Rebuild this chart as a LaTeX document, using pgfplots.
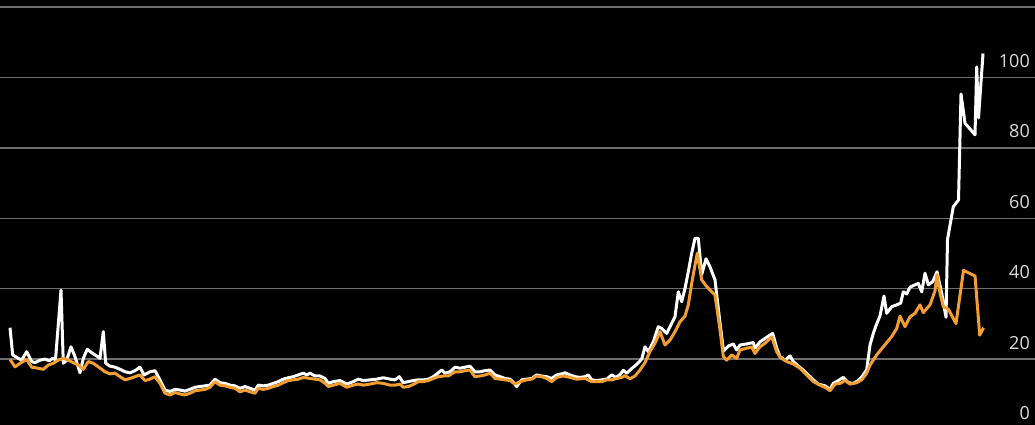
\documentclass[border=0pt]{standalone}
\usepackage{pgfplots}
\pgfplotsset{compat=1.18}
\usepackage{fontspec}
\setmainfont{Open Sans}
\definecolor{orangeline}{RGB}{242,158,50}
\definecolor{gridgray}{RGB}{110,110,110}
\definecolor{labelgray}{RGB}{220,220,220}
\begin{document}
\begin{tikzpicture}
\begin{axis}[
  scale only axis, width=1035pt, height=429.5pt,
  xmin=0, xmax=1035, ymin=0, ymax=122,
  axis background/.style={fill=black},
  axis line style={draw=none},
  xtick=\empty,
  ytick={0,20,40,60,80,100,120},
  yticklabels={0,20,40,60,80,100,},
  ymajorgrids,
  grid style={color=gridgray, line width=1.3pt},
  major tick length=0pt,
  yticklabel pos=right,
  /pgf/number format/assume math mode=true,
  yticklabel style={anchor=base east, inner sep=0pt, xshift=-5pt, yshift=10pt,
    font=\fontsize{18}{20}\selectfont, text=labelgray},
]
\addplot[white, line width=3pt, line join=round, no marks] coordinates {
(10,28.9) (12.7,21.2) (18.3,20.2) (21.7,19.7) (26.7,22.1) (31.7,19.3) (35,19.0) (40,19.7) (45,20.0) (49.3,19.5) (52.7,20.2) (55.5,19.8) (61,39.6) (63.3,18.8) (66.7,19.7) (71,23.5) (75,20.7) (80,16.1) (83.3,20.2) (87.3,22.8) (91.7,21.8) (96.7,20.9) (100,20.2) (103.3,27.8) (105.7,18.8) (110,18.0) (115,17.7) (120,17.1) (125,16.4) (130,16.1) (135,16.7) (140,17.7) (144,15.5) (150,16.4) (155,16.7) (160,14.1) (165,11.2) (170,10.8) (175,11.4) (180,11.2) (185,10.9) (190,11.4) (195,12.0) (200,12.2) (205,12.4) (210,12.6) (215,14.3) (220,13.3) (225,13.1) (230,12.6) (235,12.4) (240,11.7) (245,12.2) (250,11.7) (255,11.2) (258.3,12.6) (263.3,12.4) (268.3,12.6) (273.3,13.1) (278.3,13.6) (283.3,14.3) (288.3,14.7) (293.3,15.0) (298.3,15.5) (303.3,16.0) (306.7,15.5) (310,16.0) (315,15.2) (320,15.2) (325,14.5) (328.3,13.1) (333.3,13.6) (340,13.9) (346.7,12.9) (353.3,13.6) (358.3,14.3) (363.3,13.9) (370,14.1) (376.7,14.3) (383.3,14.7) (390,14.3) (395,14.1) (399.3,15.0) (403.3,13.3) (408.3,13.6) (413.3,13.9) (418.3,14.1) (423.3,14.1) (428.3,14.3) (433.3,15.0) (438.3,16.1) (441.7,16.9) (445,16.0) (450,16.4) (455,17.7) (460,17.4) (465,17.7) (470,18.0) (475,16.4) (480,16.4) (485,16.7) (490,16.9) (495,15.5) (500,15.0) (505,14.5) (510,14.3) (513.3,13.4) (516.7,12.2) (521.7,14.1) (526.7,14.3) (531.7,14.5) (536.7,15.5) (541.7,15.2) (546.7,15.0) (551.7,14.5) (556.7,15.5) (561.7,15.8) (565,16.1) (570,15.5) (575,15.0) (580,14.8) (585,15.0) (588.3,15.5) (591.7,14.1) (596.7,13.9) (601.7,14.1) (606.7,14.3) (611.7,15.5) (616,14.8) (620,15.6) (623.3,16.8) (626.7,16.0) (631.7,17.3) (636.7,18.5) (641.7,20.0) (645,23.5) (648.3,22.1) (653.3,24.9) (658.3,29.2) (661.7,28.7) (666.7,27.3) (670,29.2) (675,32.0) (678.3,39.1) (681.7,36.3) (685,40.1) (688.3,44.8) (691.7,50.1) (695,54.3) (698.3,54.3) (701.7,44.0) (706,48.5) (710,46.2) (715,42.5) (720,30.2) (723.5,22.3) (728.3,23.7) (733.3,24.3) (736.7,22.6) (740,24.0) (746.7,24.3) (753.3,24.7) (755,23.1) (760,24.9) (766.7,26.2) (772.7,27.3) (776.7,23.1) (780,20.7) (785,19.7) (790,20.9) (793.3,19.3) (798.3,18.0) (803.3,16.9) (808.3,15.5) (813.3,14.1) (818.3,12.9) (825,12.4) (830,11.4) (833.3,13.1) (838.3,13.9) (843.3,14.8) (848.3,13.3) (853.3,13.1) (858.3,13.9) (862,15.0) (866.7,17.0) (870,24.0) (873.3,27.3) (876,29.5) (880,32.3) (884,37.9) (886.7,33.0) (891.7,34.9) (896.7,35.4) (900.7,35.9) (903.3,39.1) (906.7,38.5) (910,40.4) (915,41.1) (918.3,41.5) (921.7,39.1) (925,44.4) (928.3,41.1) (932.7,42.0) (937,44.8) (941.7,38.7) (946,31.9) (947.5,54.0) (953.3,63.3) (958.5,65.2) (961,95.3) (965,87.0) (975,83.7) (976.7,103.0) (978.5,88.5) (983,106.8)
};
\addplot[orangeline, line width=3pt, line join=round, no marks] coordinates {
(10,19.9) (15,17.8) (20,18.8) (26.7,19.9) (31.7,17.7) (38.3,17.4) (43.3,17.1) (48.3,18.3) (53.3,18.8) (58.3,19.7) (63.3,20.2) (68.3,19.7) (73.3,19.0) (78.3,18.3) (83.3,17.1) (88.3,19.3) (93.3,18.8) (98.3,17.8) (105,16.4) (110,15.8) (115,16.0) (120,15.0) (125,14.1) (130,14.5) (135,15.0) (140,15.5) (145,13.9) (150,14.3) (155,15.0) (160,13.1) (165,10.3) (170,9.8) (175,10.5) (180,10.1) (185,9.8) (190,10.3) (195,11.0) (200,11.2) (205,11.4) (210,12.0) (215,13.6) (220,12.6) (225,12.4) (230,12.0) (235,11.7) (240,10.7) (245,11.2) (250,10.7) (255,10.3) (258.3,11.7) (263.3,11.4) (268.3,11.7) (273.3,12.2) (278.3,12.6) (283.3,13.3) (288.3,13.9) (293.3,14.1) (298.3,14.3) (303.3,14.8) (310,14.5) (315,14.3) (320,14.1) (325,13.1) (328.3,12.2) (333.3,12.6) (340,13.1) (346.7,12.0) (353.3,12.6) (358.3,12.9) (363.3,12.6) (370,12.9) (376.7,13.3) (383.3,13.1) (390,12.6) (395,12.6) (400,12.9) (403.3,12.0) (408.3,12.2) (413.3,12.8) (418.3,13.6) (423.3,13.6) (428.3,13.9) (433.3,14.5) (438.3,15.0) (443.3,15.2) (448.3,15.2) (455,16.4) (460,16.4) (465,16.7) (470,16.9) (475,15.0) (480,15.2) (485,15.5) (490,16.0) (495,14.5) (500,14.3) (505,14.1) (510,13.9) (515,12.9) (520,13.6) (526.7,14.1) (531.7,14.3) (536.7,15.2) (541.7,15.0) (546.7,14.5) (551.7,13.6) (556.7,14.8) (563.3,15.2) (570,14.8) (576.7,14.3) (585,14.5) (591.7,13.6) (596.7,13.6) (601.7,13.6) (606.7,14.1) (611.7,14.1) (616.7,14.5) (621.7,14.8) (625,15.3) (630,14.4) (635,15.2) (640,16.9) (645,19.0) (650,22.2) (655,24.5) (660,27.8) (665,24.0) (670,25.4) (675,27.8) (680,30.6) (685,32.2) (688.3,35.4) (691.7,41.5) (695,46.7) (697.3,50.1) (701.7,42.5) (706.7,40.6) (711.7,39.1) (715,38.2) (720,28.3) (723.3,20.7) (726.7,19.7) (731.7,21.2) (736.7,20.2) (740,22.6) (746.7,23.1) (751.7,23.4) (755,21.6) (760,23.5) (765,24.5) (771.7,26.3) (776.7,22.1) (780,20.5) (786.7,19.3) (793.3,18.6) (800,17.4) (806.7,15.5) (813.3,13.6) (820,12.6) (826.7,11.7) (830,11.0) (835,12.9) (840,13.1) (845,13.9) (850,12.9) (856.7,13.3) (861.7,14.1) (866.7,16.0) (870,18.3) (876.7,21.2) (883.3,23.5) (891.7,26.4) (896.7,28.7) (900,32.2) (905,29.2) (910,32.0) (915,33.0) (920,35.4) (923.3,33.2) (930,35.4) (935,39.4) (937,44.0) (940,38.7) (943.3,34.9) (948.3,34.2) (956,30.1) (963.5,45.2) (975,43.6) (979.7,26.8) (983.5,28.9)
};
\end{axis}
\pgfresetboundingbox
\path[use as bounding box] (0pt,4.5pt) rectangle (1035pt,429.5pt);
\end{tikzpicture}
\end{document}
